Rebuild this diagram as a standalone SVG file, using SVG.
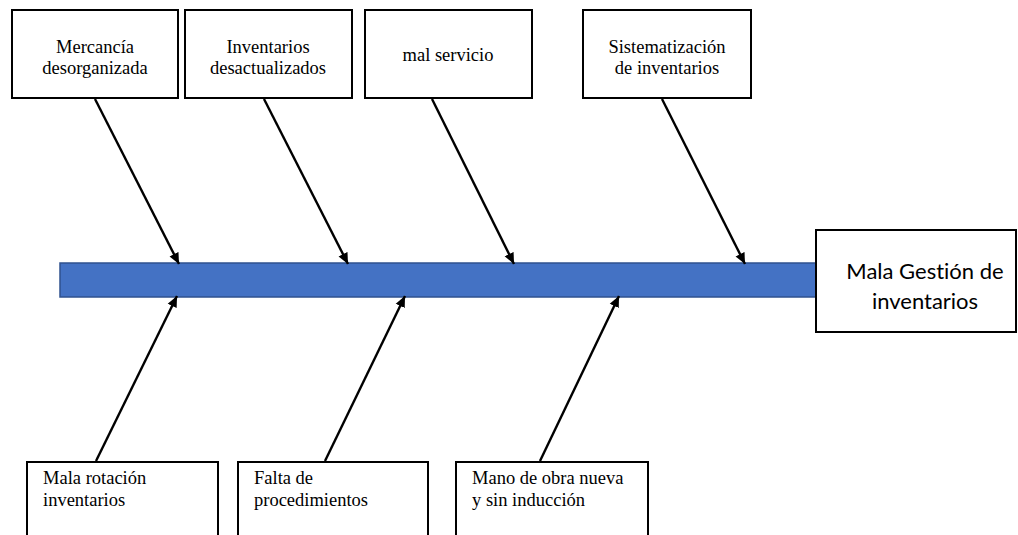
<svg xmlns="http://www.w3.org/2000/svg" width="1018" height="535" viewBox="0 0 1018 535">
<defs>
<style>
.box{fill:#fff;stroke:#000;stroke-width:2}
.t{font-family:"Liberation Serif","Times New Roman",serif;font-size:18.5px;fill:#000}
.c{text-anchor:middle}
.h{font-family:Lato,"Open Sans",sans-serif;font-size:22px;fill:#000;text-anchor:middle;font-variant-ligatures:none}
.arr{stroke:#000;stroke-width:2.4;fill:none;marker-end:url(#ah)}
</style>
<marker id="ah" markerUnits="userSpaceOnUse" markerWidth="12" markerHeight="12" viewBox="0 0 12 12" refX="11" refY="6" orient="auto">
<path d="M0,1 L11,6 L0,11 Z" fill="#000"/>
</marker>
</defs>
<rect width="1018" height="535" fill="#fff"/>
<g id="spine"><rect x="60" y="263" width="758" height="34" fill="#4472C4" stroke="#2F528F" stroke-width="1.5"/></g>
<g id="head"><rect class="box" x="816" y="230" width="200" height="102" stroke-width="1.5"/><text class="h" x="925" y="279">Mala Gestión de</text><text class="h" x="925" y="309">inventarios</text></g>
<g id="n1"><rect class="box" x="12" y="10" width="166" height="88"/><text class="t c" x="95" y="53">Mercancía</text><text class="t c" x="95" y="74">desorganizada</text></g>
<g id="n2"><rect class="box" x="185" y="10" width="167" height="88"/><text class="t c" x="268" y="53">Inventarios</text><text class="t c" x="268" y="74">desactualizados</text></g>
<g id="n3"><rect class="box" x="365" y="10" width="167" height="88"/><text class="t c" x="448" y="61">mal servicio</text></g>
<g id="n4"><rect class="box" x="583" y="10" width="168" height="88"/><text class="t c" x="667" y="53">Sistematización</text><text class="t c" x="667" y="74">de inventarios</text></g>
<g id="n5"><rect class="box" x="27" y="462" width="191" height="90"/><text class="t" x="43" y="484">Mala rotación</text><text class="t" x="43" y="506">inventarios</text></g>
<g id="n6"><rect class="box" x="238" y="462" width="190" height="90"/><text class="t" x="254" y="484">Falta de</text><text class="t" x="254" y="506">procedimientos</text></g>
<g id="n7"><rect class="box" x="456" y="462" width="192" height="90"/><text class="t" x="472" y="484">Mano de obra nueva</text><text class="t" x="472" y="506">y sin inducción</text></g>
<g id="connectors">
<line class="arr" x1="95" y1="99" x2="179" y2="264"/>
<line class="arr" x1="264" y1="99" x2="348" y2="264"/>
<line class="arr" x1="432" y1="99" x2="514" y2="264"/>
<line class="arr" x1="662" y1="99" x2="745" y2="264"/>
<line class="arr" x1="96" y1="461" x2="177" y2="296"/>
<line class="arr" x1="325" y1="461" x2="405" y2="296"/>
<line class="arr" x1="540" y1="461" x2="619" y2="296"/>
</g>
</svg>
